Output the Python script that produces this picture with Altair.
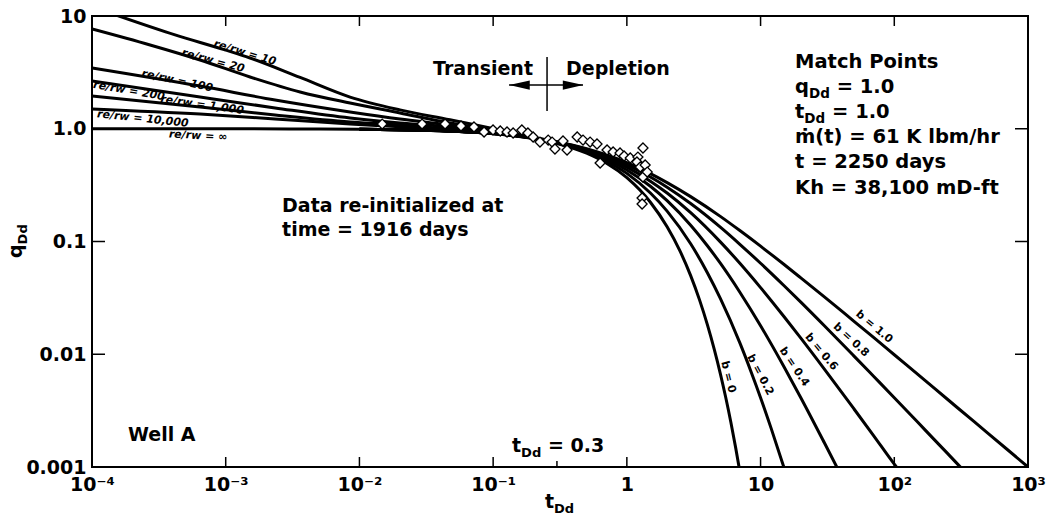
import altair as alt
import pandas as pd

FONT = "DejaVu Sans"
W, H = 936, 451

# ---------------- axis ticks ----------------
x_tick_values = [1e-4, 1e-3, 1e-2, 1e-1, 1, 10, 100, 1000]
x_tick_labels = ["10⁻⁴", "10⁻³", "10⁻²", "10⁻¹", "1", "10", "10²", "10³"]
y_tick_values = [0.001, 0.01, 0.1, 1, 10]
y_tick_labels = ["0.001", "0.01", "0.1", "1.0", "10"]

# ---------------- transient stems (re/rw) ----------------
rr10_t = [1.44e-4, 4.18e-4, 9.89e-4, 1.52e-3, 3.60e-3, 8.51e-3, 0.0201, 0.0476, 0.113, 0.2]
rr10_q = [10.4, 6.8, 5.0, 4.24, 2.85, 1.91, 1.47, 1.20, 0.97, 0.83]
rr20_t = [1e-4, 2.72e-4, 6.43e-4, 1.52e-3, 3.6e-3, 8.51e-3, 0.0201, 0.0476, 0.113, 0.2]
rr20_q = [7.67, 5.53, 4.07, 2.88, 2.12, 1.69, 1.38, 1.125, 0.95, 0.83]
rr_t = [1e-4, 6.43e-4, 2.34e-3, 8.51e-3, 0.0201, 0.0476, 0.113, 0.2]
rr100_q = [3.46, 2.39, 1.80, 1.41, 1.22, 1.08, 0.93, 0.83]
rr200_q = [2.65, 1.91, 1.53, 1.245, 1.125, 1.04, 0.92, 0.83]
rr1000_q = [1.95, 1.56, 1.325, 1.15, 1.08, 0.995, 0.91, 0.83]
rr10000_q = [1.50, 1.35, 1.22, 1.10, 1.04, 0.975, 0.905, 0.83]
rrinf_t = [1e-4, 1e-3, 3e-3, 0.01]
rrinf_q = [1.0, 1.0, 0.997, 0.99]

# ---------------- depletion stems (b) ----------------
b0_t = [0.01, 0.03, 0.1, 0.2, 0.3, 0.5, 0.7, 1, 1.5, 2, 2.5, 3, 3.5, 4, 4.5, 5, 5.5, 6, 6.5, 7]
b0_q = [0.990, 0.970, 0.905, 0.819, 0.741, 0.607, 0.497, 0.368, 0.223, 0.135, 0.0821, 0.0498,
        0.0302, 0.0183, 0.0111, 0.00674, 0.00409, 0.00248, 0.00150, 0.00091]
b02_t = [0.01, 0.03, 0.1, 0.2, 0.3, 0.5, 0.7, 1, 1.5, 2, 3, 4, 5, 7, 8.5, 10, 12, 15]
b02_q = [0.990, 0.9705, 0.906, 0.822, 0.747, 0.621, 0.519, 0.402, 0.269, 0.186, 0.0954, 0.0529,
         0.0313, 0.0126, 0.00697, 0.00412, 0.00220, 0.00098]
b04_t = [0.01, 0.03, 0.1, 0.2, 0.3, 0.5, 0.7, 1, 1.5, 2, 3, 4, 5, 7, 10, 15, 20, 30, 38]
b04_q = [0.990, 0.9706, 0.907, 0.825, 0.753, 0.634, 0.540, 0.431, 0.309, 0.230, 0.1395, 0.0917,
         0.0642, 0.0355, 0.0179, 0.00771, 0.00412, 0.00164, 0.00095]
b06_t = [0.01, 0.03, 0.1, 0.2, 0.3, 0.5, 0.7, 1, 1.5, 2, 3, 5, 7, 10, 15, 20, 30, 50, 70, 100, 106]
b06_q = [0.990, 0.9707, 0.9075, 0.828, 0.759, 0.646, 0.557, 0.457, 0.343, 0.269, 0.180, 0.0992,
         0.0641, 0.0390, 0.0215, 0.0139, 0.00739, 0.00327, 0.00190, 0.00106, 0.00097]
b08_t = [0.01, 0.03, 0.1, 0.2, 0.3, 0.5, 0.7, 1, 1.5, 2, 3, 5, 7, 10, 15, 20, 30, 50, 70, 100,
         150, 200, 250, 300, 320]
b08_q = [0.990, 0.9708, 0.908, 0.831, 0.764, 0.657, 0.574, 0.480, 0.373, 0.303, 0.217, 0.134,
         0.0945, 0.0641, 0.0405, 0.0290, 0.0179, 0.00963, 0.00638, 0.00412, 0.00249, 0.00174,
         0.00132, 0.00105, 0.00097]
b10_t = [0.01, 0.03, 0.1, 0.2, 0.3, 0.5, 0.7, 1, 1.5, 2, 3, 5, 7, 10, 15, 20, 30, 50, 70, 100,
         150, 200, 300, 500, 700, 1000]
b10_q = [0.990, 0.971, 0.909, 0.833, 0.769, 0.667, 0.588, 0.500, 0.400, 0.333, 0.250, 0.167,
         0.125, 0.0909, 0.0625, 0.0476, 0.0323, 0.0196, 0.0141, 0.0099, 0.00662, 0.00498,
         0.00332, 0.00200, 0.00143, 0.00100]

# ---------------- well data (diamonds) ----------------
data_t = [0.0148, 0.0294, 0.0437, 0.0575, 0.0719, 0.0855, 0.0998, 0.113, 0.127, 0.141, 0.164,
          0.182, 0.199, 0.224, 0.258, 0.276, 0.290, 0.333, 0.357, 0.425, 0.470, 0.531, 0.598,
          0.631, 0.711, 0.789, 0.889, 0.953, 1.06, 1.21, 1.32, 1.19, 1.26, 1.32, 1.30, 1.30,
          1.37, 1.42]
data_q = [1.10, 1.10, 1.10, 1.057, 1.037, 0.936, 0.975, 0.955, 0.936, 0.917, 0.975, 0.917,
          0.845, 0.762, 0.794, 0.762, 0.661, 0.778, 0.648, 0.845, 0.794, 0.762, 0.733, 0.497,
          0.648, 0.622, 0.610, 0.573, 0.551, 0.561, 0.675, 0.507, 0.458, 0.373, 0.243, 0.215,
          0.477, 0.413]

# ---------------- curve labels ----------------
rr_labels = ["re/rw = 10", "re/rw = 20", "re/rw = 100", "re/rw = 200", "re/rw = 1,000",
             "re/rw = 10,000", "re/rw = ∞"]
rr_label_t = [1.39e-3, 8.04e-4, 4.33e-4, 1.89e-4, 6.65e-4, 2.40e-4, 6.21e-4]
rr_label_q = [4.70, 3.99, 2.65, 2.16, 1.62, 1.22, 0.862]
rr_label_angle = [17, 15, 12, 10, 8, 6, 3]

b_labels = ["b = 0", "b = 0.2", "b = 0.4", "b = 0.6", "b = 0.8", "b = 1.0"]
b_label_t = [5.71, 9.91, 17.8, 28.4, 47.5, 70.6]
b_label_q = [0.00628, 0.00655, 0.00771, 0.01047, 0.01337, 0.01746]
b_label_angle = [76, 62, 56, 50, 43, 40]

# ---------------- plain annotations ----------------
note_text = ["Data re-initialized at", "time = 1916 days", "Well A"]
note_t = [2.64e-3, 2.64e-3, 1.86e-4]
note_q = [0.1827, 0.1119, 0.0017]

match_text = ["Match Points", "ṁ(t) = 61 K lbm/hr", "t = 2250 days", "Kh = 38,100 mD-ft"]
match_t = [18.1, 18.1, 18.1, 18.1]
match_q = [3.46, 0.747, 0.449, 0.2638]

# subscripted lines: main letter + subscript + tail
sub_main = ["q", "t", "t"]
sub_sub = ["Dd", "Dd", "Dd"]
sub_tail = ["= 1.0", "= 1.0", "= 0.3"]
sub_t = [18.1, 18.1, 0.1384]
sub_q = [2.07, 1.246, 0.00136]
sub_size = [19.5, 19.5, 19]

# transient / depletion marker
split_t = 0.253
split_q = [1.44, 4.33]
arrow_t = [0.1315, 0.47]
arrow_q = 2.44
head_t = [0.1575, 0.396]

# ---------------- helpers ----------------
ADV = {"q": 0.716, "t": 0.478, "D": 0.830, "d": 0.716, " ": 0.348}


def width(s, size):
    return sum(ADV.get(c, 0.65) for c in s) * size


def label_expr(vals, labels):
    expr = f"'{labels[-1]}'"
    for v, lab in reversed(list(zip(vals[:-1], labels[:-1]))):
        expr = f"datum.value < {v * 3.1623:.6g} ? '{lab}' : ({expr})"
    return expr


xs = alt.Scale(type="log", domain=[1e-4, 1e3], nice=False)
ys = alt.Scale(type="log", domain=[0.001, 10], nice=False)

x_axis = alt.Axis(values=x_tick_values, labelExpr=label_expr(x_tick_values, x_tick_labels),
                  title=None, ticks=False, domain=False, grid=False, labelFont=FONT,
                  labelFontWeight="bold", labelFontSize=19, labelPadding=8, labelColor="black",
                  labelFlush=False, labelOverlap=False)
y_axis = alt.Axis(values=y_tick_values, labelExpr=label_expr(y_tick_values, y_tick_labels),
                  title=None, ticks=False, domain=False, grid=False, labelFont=FONT,
                  labelFontWeight="bold", labelFontSize=19, labelPadding=6, labelColor="black",
                  labelFlush=False, labelOverlap=False)


def X(field="t"):
    return alt.X(f"{field}:Q", scale=xs, axis=x_axis)


def Y(field="q"):
    return alt.Y(f"{field}:Q", scale=ys, axis=y_axis)


curves = {
    "rr10": (rr10_t, rr10_q), "rr20": (rr20_t, rr20_q), "rr100": (rr_t, rr100_q),
    "rr200": (rr_t, rr200_q), "rr1000": (rr_t, rr1000_q), "rr10000": (rr_t, rr10000_q),
    "rrinf": (rrinf_t, rrinf_q), "b0": (b0_t, b0_q), "b02": (b02_t, b02_q),
    "b04": (b04_t, b04_q), "b06": (b06_t, b06_q), "b08": (b08_t, b08_q), "b10": (b10_t, b10_q),
}
rows = []
for name, (ts, qs) in curves.items():
    for t, q in zip(ts, qs):
        rows.append({"curve": name, "t": t, "q": q})
curve_df = pd.DataFrame(rows)

layers = []
layers.append(
    alt.Chart(curve_df).mark_line(color="black", strokeWidth=3, clip=True,
                                  interpolate="monotone").encode(
        x=X(), y=Y(), detail="curve:N",
    )
)

pt_df = pd.DataFrame({"t": data_t, "q": data_q})
layers.append(
    alt.Chart(pt_df).mark_point(shape="diamond", filled=True, fill="white", stroke="black",
                                strokeWidth=1.3, size=100, opacity=1).encode(x=X(), y=Y())
)

# inward ticks on four sides
xt_df = pd.DataFrame({"t": x_tick_values})
yt_df = pd.DataFrame({"q": y_tick_values})
layers.append(alt.Chart(xt_df).mark_rule(color="black", strokeWidth=1.5).encode(
    x=X(), y=alt.value(H), y2=alt.value(H - 10)))
layers.append(alt.Chart(xt_df).mark_rule(color="black", strokeWidth=1.5).encode(
    x=X(), y=alt.value(0), y2=alt.value(10)))
layers.append(alt.Chart(yt_df).mark_rule(color="black", strokeWidth=1.5).encode(
    y=Y(), x=alt.value(0), x2=alt.value(13)))
layers.append(alt.Chart(yt_df).mark_rule(color="black", strokeWidth=1.5).encode(
    y=Y(), x=alt.value(W - 13), x2=alt.value(W)))
layers.append(alt.Chart(pd.DataFrame({"t": [0.3]})).mark_rule(color="black", strokeWidth=1.5).encode(
    x=X(), y=alt.value(H), y2=alt.value(H - 6)))

# transient/depletion divider and arrows
layers.append(alt.Chart(pd.DataFrame({"t": [split_t], "q": [split_q[0]], "q2": [split_q[1]]}))
              .mark_rule(color="black", strokeWidth=1.5)
              .encode(x=X(), y=Y(), y2="q2:Q"))
layers.append(alt.Chart(pd.DataFrame({"t": [arrow_t[0]], "t2": [arrow_t[1]], "q": [arrow_q]}))
              .mark_rule(color="black", strokeWidth=1.5)
              .encode(x=X(), x2="t2:Q", y=Y()))
layers.append(alt.Chart(pd.DataFrame({"t": [head_t[0]], "q": [arrow_q]}))
              .mark_point(shape="M -1 0 L 1 -0.45 L 1 0.45 Z", filled=True, color="black",
                          size=420, opacity=1).encode(x=X(), y=Y()))
layers.append(alt.Chart(pd.DataFrame({"t": [head_t[1]], "q": [arrow_q]}))
              .mark_point(shape="M 1 0 L -1 -0.45 L -1 0.45 Z", filled=True, color="black",
                          size=420, opacity=1).encode(x=X(), y=Y()))

# curve labels
rr_df = pd.DataFrame({"t": rr_label_t, "q": rr_label_q, "a": rr_label_angle, "label": rr_labels})
layers.append(alt.Chart(rr_df).mark_text(font=FONT, fontWeight="bold", fontStyle="italic",
                                         fontSize=11, color="black", align="center",
                                         baseline="middle").encode(
    x=X(), y=Y(), text="label:N", angle=alt.Angle("a:Q", scale=None)))
b_df = pd.DataFrame({"t": b_label_t, "q": b_label_q, "a": b_label_angle, "label": b_labels})
layers.append(alt.Chart(b_df).mark_text(font=FONT, fontWeight="bold", fontSize=11,
                                        color="black", align="center",
                                        baseline="middle").encode(
    x=X(), y=Y(), text="label:N", angle=alt.Angle("a:Q", scale=None)))

# plain annotations
layers.append(alt.Chart(pd.DataFrame({"t": [0.1986], "q": [3.0], "label": ["Transient"]}))
              .mark_text(font=FONT, fontWeight="bold", fontSize=19, color="black",
                         align="right", baseline="alphabetic")
              .encode(x=X(), y=Y(), text="label:N"))
layers.append(alt.Chart(pd.DataFrame({"t": [0.3506], "q": [3.0], "label": ["Depletion"]}))
              .mark_text(font=FONT, fontWeight="bold", fontSize=19, color="black",
                         align="left", baseline="alphabetic")
              .encode(x=X(), y=Y(), text="label:N"))
layers.append(alt.Chart(pd.DataFrame({"t": note_t, "q": note_q, "label": note_text}))
              .mark_text(font=FONT, fontWeight="bold", fontSize=19, color="black",
                         align="left", baseline="alphabetic")
              .encode(x=X(), y=Y(), text="label:N"))
layers.append(alt.Chart(pd.DataFrame({"t": match_t, "q": match_q, "label": match_text}))
              .mark_text(font=FONT, fontWeight="bold", fontSize=19.5, color="black",
                         align="left", baseline="alphabetic")
              .encode(x=X(), y=Y(), text="label:N"))

# subscripted annotations
for m, s, tail, t, q, size in zip(sub_main, sub_sub, sub_tail, sub_t, sub_q, sub_size):
    small = round(size * 0.69, 1)
    w1 = width(m, size)
    w2 = width(s, small)
    w3 = width(" ", size)
    df = pd.DataFrame({"t": [t], "q": [q]})
    for txt, dx, dy, fs in [(m, 0, 0, size), (s, w1, 5, small), (tail, w1 + w2 + w3, 0, size)]:
        layers.append(alt.Chart(df).mark_text(text=txt, font=FONT, fontWeight="bold",
                                              fontSize=fs, color="black", align="left",
                                              baseline="alphabetic", dx=dx, dy=dy)
                      .encode(x=X(), y=Y()))

# axis titles (pixel positions relative to plot origin)
one = pd.DataFrame({"z": [0]})
layers.append(alt.Chart(one).mark_text(text="t", font=FONT, fontWeight="bold", fontSize=19,
                                       color="black", align="left", baseline="alphabetic")
              .encode(x=alt.value(453), y=alt.value(492)))
layers.append(alt.Chart(one).mark_text(text="Dd", font=FONT, fontWeight="bold", fontSize=13,
                                       color="black", align="left", baseline="alphabetic")
              .encode(x=alt.value(453 + width("t", 19)), y=alt.value(497)))
layers.append(alt.Chart(one).mark_text(text="q", font=FONT, fontWeight="bold", fontSize=19,
                                       color="black", align="left", baseline="alphabetic",
                                       angle=270)
              .encode(x=alt.value(-70), y=alt.value(242)))
layers.append(alt.Chart(one).mark_text(text="Dd", font=FONT, fontWeight="bold", fontSize=13,
                                       color="black", align="left", baseline="alphabetic",
                                       angle=270)
              .encode(x=alt.value(-65), y=alt.value(242 - width("q", 19))))

chart = (
    alt.layer(*layers)
    .properties(width=W, height=H, autosize=alt.AutoSizeParams(type="none"),
                padding={"left": 92, "top": 16, "right": 20, "bottom": 50},
                background="white")
    .configure_view(stroke="black", strokeWidth=2)
)

chart.save("out.html", embed_options={"renderer": "svg", "actions": False})
